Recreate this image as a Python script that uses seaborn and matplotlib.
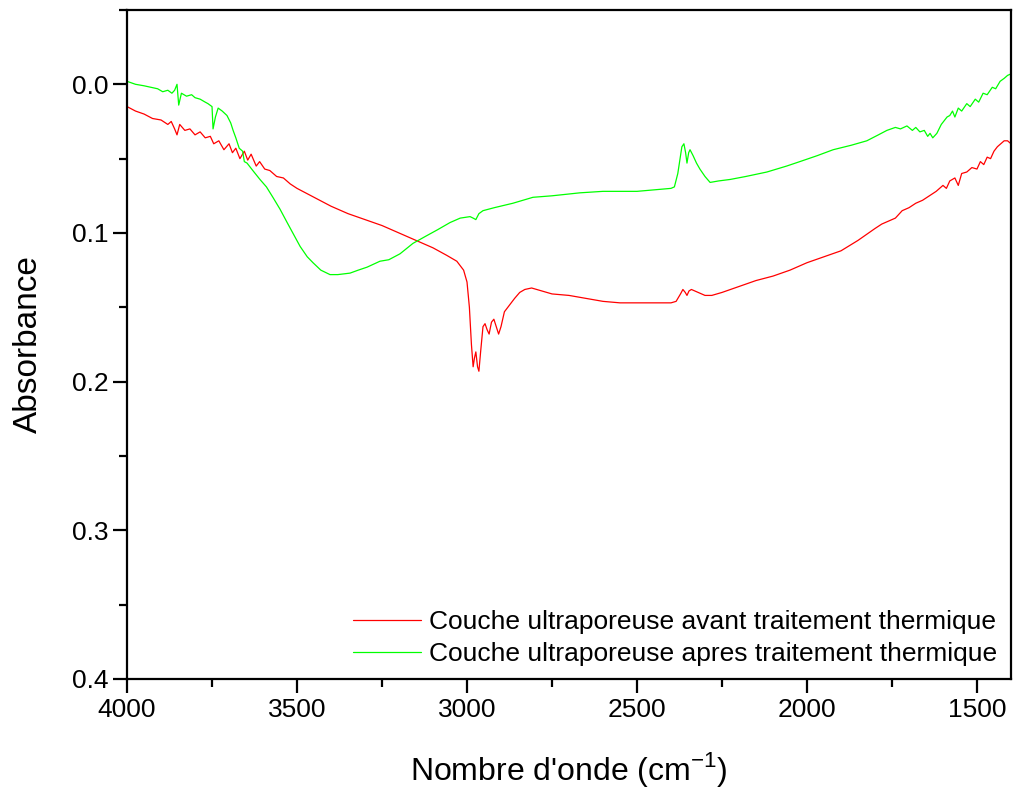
import numpy as np
import pandas as pd
import seaborn as sns
import matplotlib.pyplot as plt
from matplotlib.ticker import MultipleLocator

# spectrum before heat treatment
red_wn = [4000, 3975, 3950, 3925, 3900, 3880, 3870, 3860, 3853, 3845, 3830, 3815, 3800, 3785,
          3770, 3755, 3745, 3730, 3715, 3700, 3690, 3680, 3668, 3655, 3645, 3635, 3620, 3610,
          3595, 3580, 3560, 3540, 3520, 3500, 3450, 3400, 3350, 3300, 3250, 3200, 3150, 3100,
          3060, 3030, 3010, 3000, 2993, 2987, 2982, 2978, 2974, 2969, 2965, 2960, 2953, 2947,
          2941, 2935, 2928, 2921, 2914, 2907, 2900, 2890, 2880, 2870, 2860, 2845, 2830, 2810,
          2780, 2750, 2700, 2650, 2600, 2550, 2500, 2450, 2400, 2385, 2372, 2365, 2358, 2353,
          2347, 2340, 2320, 2300, 2280, 2250, 2200, 2150, 2100, 2050, 2000, 1950, 1900, 1850,
          1800, 1780, 1760, 1740, 1720, 1700, 1680, 1660, 1640, 1620, 1600, 1590, 1580, 1565,
          1555, 1545, 1530, 1515, 1500, 1490, 1480, 1470, 1460, 1450, 1440, 1430, 1420, 1410, 1400]
red_abs = [0.015, 0.018, 0.020, 0.023, 0.024, 0.027, 0.025, 0.030, 0.034, 0.027, 0.031, 0.030, 0.034, 0.032,
           0.036, 0.035, 0.040, 0.038, 0.044, 0.040, 0.046, 0.043, 0.050, 0.045, 0.051, 0.047, 0.055, 0.052,
           0.057, 0.058, 0.062, 0.063, 0.067, 0.070, 0.076, 0.082, 0.087, 0.091, 0.095, 0.100, 0.105, 0.110,
           0.115, 0.119, 0.125, 0.133, 0.150, 0.175, 0.190, 0.184, 0.180, 0.190, 0.193, 0.180, 0.163, 0.161,
           0.165, 0.168, 0.160, 0.158, 0.163, 0.168, 0.163, 0.153, 0.150, 0.147, 0.144, 0.140, 0.138, 0.137,
           0.139, 0.141, 0.142, 0.144, 0.146, 0.147, 0.147, 0.147, 0.147, 0.146, 0.141, 0.138, 0.140, 0.142,
           0.139, 0.138, 0.140, 0.142, 0.142, 0.140, 0.136, 0.132, 0.129, 0.125, 0.120, 0.116, 0.112, 0.105,
           0.097, 0.094, 0.092, 0.090, 0.085, 0.083, 0.080, 0.078, 0.075, 0.072, 0.068, 0.070, 0.065, 0.063,
           0.068, 0.060, 0.059, 0.056, 0.057, 0.052, 0.054, 0.049, 0.050, 0.045, 0.042, 0.040, 0.038, 0.038, 0.040]

# spectrum after heat treatment
green_wn = [4000, 3975, 3950, 3930, 3910, 3895, 3880, 3868, 3860, 3853, 3848, 3840, 3825, 3810,
            3800, 3785, 3770, 3762, 3750, 3747, 3740, 3732, 3720, 3706, 3695, 3688, 3680, 3670,
            3660, 3655, 3647, 3630, 3609, 3590, 3571, 3550, 3529, 3510, 3491, 3470, 3453, 3430,
            3403, 3380, 3344, 3320, 3294, 3256, 3230, 3197, 3159, 3120, 3088, 3050, 3020, 2991,
            2982, 2974, 2965, 2953, 2920, 2865, 2806, 2750, 2668, 2600, 2500, 2450, 2400, 2390,
            2380, 2374, 2368, 2362, 2357, 2353, 2348, 2344, 2335, 2325, 2315, 2300, 2285, 2260,
            2226, 2180, 2118, 2060, 2021, 1970, 1923, 1870, 1824, 1790, 1765, 1740, 1725, 1706,
            1690, 1680, 1668, 1655, 1645, 1638, 1630, 1618, 1605, 1588, 1580, 1572, 1565, 1555,
            1545, 1530, 1520, 1505, 1495, 1482, 1470, 1455, 1445, 1432, 1420, 1410, 1400]
green_abs = [-0.002, 0.000, 0.001, 0.002, 0.003, 0.005, 0.004, 0.006, 0.004, 0.000, 0.014, 0.006, 0.008, 0.007,
             0.009, 0.010, 0.012, 0.013, 0.015, 0.030, 0.022, 0.016, 0.018, 0.021, 0.026, 0.031, 0.036, 0.043,
             0.045, 0.052, 0.053, 0.058, 0.064, 0.069, 0.076, 0.084, 0.093, 0.101, 0.109, 0.116, 0.120, 0.125,
             0.128, 0.128, 0.127, 0.125, 0.123, 0.119, 0.118, 0.114, 0.107, 0.102, 0.098, 0.093, 0.090, 0.089,
             0.090, 0.091, 0.087, 0.085, 0.083, 0.080, 0.076, 0.075, 0.073, 0.072, 0.072, 0.071, 0.070, 0.069,
             0.060, 0.051, 0.042, 0.040, 0.046, 0.053, 0.046, 0.044, 0.048, 0.053, 0.057, 0.062, 0.066, 0.065,
             0.064, 0.062, 0.059, 0.055, 0.052, 0.048, 0.044, 0.041, 0.038, 0.034, 0.031, 0.029, 0.030, 0.028,
             0.031, 0.029, 0.032, 0.031, 0.035, 0.033, 0.036, 0.033, 0.027, 0.022, 0.021, 0.018, 0.022, 0.016,
             0.018, 0.013, 0.015, 0.010, 0.012, 0.006, 0.007, 0.002, 0.003, -0.002, -0.004, -0.006, -0.007]

labels = ["Couche ultraporeuse avant traitement thermique",
          "Couche ultraporeuse apres traitement thermique"]

df = pd.concat([
    pd.DataFrame({"wn": red_wn, "A": red_abs, "sample": labels[0]}),
    pd.DataFrame({"wn": green_wn, "A": green_abs, "sample": labels[1]}),
])

sns.set_style("ticks")
plt.rcParams['font.family'] = ['Liberation Sans', 'DejaVu Sans']
plt.rcParams['axes.unicode_minus'] = False
plt.rcParams['text.color'] = 'black'
plt.rcParams['axes.labelcolor'] = 'black'
plt.rcParams['xtick.color'] = 'black'
plt.rcParams['ytick.color'] = 'black'

fig = plt.figure(figsize=(10.13, 7.91), dpi=100)
ax = fig.add_axes([0.1254, 0.1416, 0.8726, 0.8458])

sns.lineplot(data=df, x="wn", y="A", hue="sample", palette=["#ff0000", "#00ff00"],
             estimator=None, linewidth=0.9, ax=ax)

ax.set_xlim(4000, 1400)
ax.set_ylim(0.4, -0.05)
ax.xaxis.set_major_locator(MultipleLocator(500))
ax.xaxis.set_minor_locator(MultipleLocator(250))
ax.yaxis.set_minor_locator(MultipleLocator(0.05))
ax.set_yticks([0.0, 0.1, 0.2, 0.3, 0.4])
ax.set_yticklabels(["0.0", "0.1", "0.2", "0.3", "0.4"])

for s in ax.spines.values():
    s.set_linewidth(1.6)
    s.set_color("black")
ax.tick_params(which="major", length=10, width=1.6, labelsize=19, direction="out")
ax.tick_params(which="minor", length=5.8, width=1.6, direction="out")

ax.set_xlabel("Nombre d'onde (cm$^{\\mathregular{-1}}$)", fontsize=23, labelpad=20)
ax.set_ylabel("Absorbance", fontsize=24, labelpad=20)

ax.legend(loc="lower right", bbox_to_anchor=(0.992, 0.009), frameon=False, fontsize=19,
          handlelength=2.6, handletextpad=0.3, borderaxespad=0.0, borderpad=0.25,
          labelspacing=0.32)

fig.savefig("out.png", dpi=100)
